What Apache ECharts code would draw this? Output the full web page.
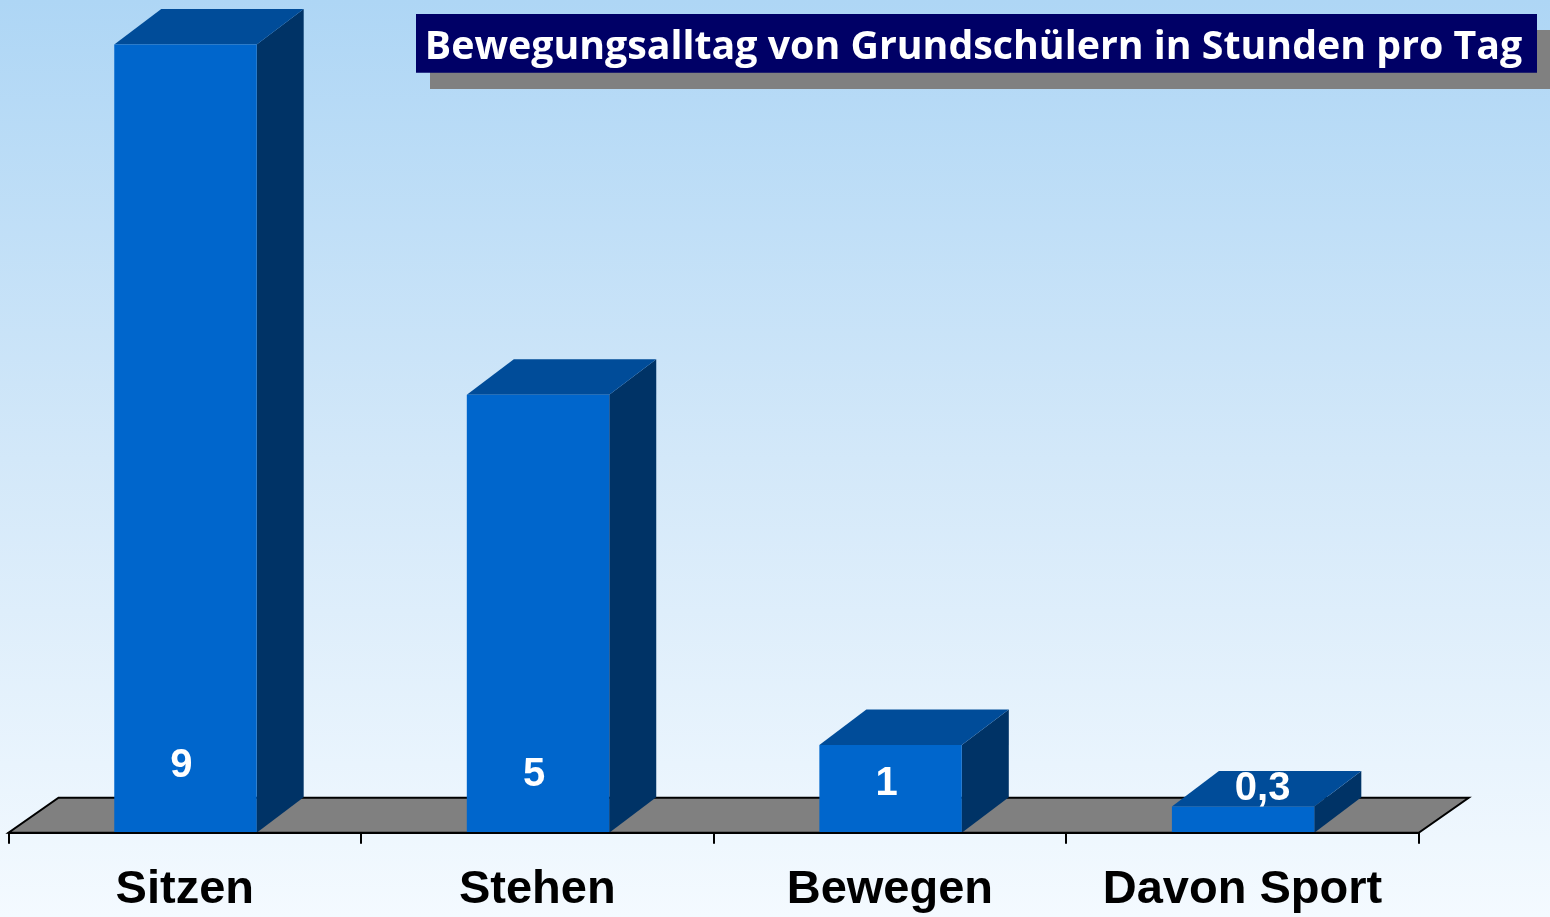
<!DOCTYPE html>
<html>
<head>
<meta charset="utf-8">
<script src="https://cdn.jsdelivr.net/npm/echarts@6/dist/echarts.min.js"></script>
<style>
html,body{margin:0;padding:0;width:1550px;height:917px;overflow:hidden;background:#e6f2fc;}
#chart{width:1550px;height:917px;}
</style>
</head>
<body>
<div id="chart"></div>
<script>
const titleText = 'Bewegungsalltag von Grundschülern in Stunden pro Tag';
const categories = ['Sitzen', 'Stehen', 'Bewegen', 'Davon Sport'];
const hours = [9, 5, 1, 0.3];
const valueLabels = ['9', '5', '1', '0,3'];

const FRONT = '#0066CC', TOP = '#004C99', SIDE = '#003366';
const DX = 47, DY = 35.5;
const LABEL_FONT = '"Liberation Sans", Arial, Helvetica, sans-serif';
const TITLE_FONT_FAMILY = '"Open Sans", "Noto Sans", sans-serif';

// fit title font size to the box width
function fitTitleSize(targetWidth) {
  const c = document.createElement('canvas').getContext('2d');
  c.font = 'bold 100px ' + TITLE_FONT_FAMILY;
  const w = c.measureText(titleText).width;
  return Math.min(42, 100 * targetWidth / w);
}
const titleSize = fitTitleSize(1097);

const chart = echarts.init(document.getElementById('chart'), null, {renderer: 'canvas'});

function renderFloor(params, api) {
  const cs = params.coordSys;
  const xl = cs.x, xr = cs.x + cs.width, yb = cs.y + cs.height;
  const fdx = 50, fdy = 35;
  return {
    type: 'polygon',
    shape: {points: [[xl, yb], [xr, yb], [xr + fdx, yb - fdy], [xl + fdx, yb - fdy]]},
    style: {fill: '#808080', stroke: '#000', lineWidth: 2}
  };
}

function renderBar(params, api) {
  const idx = api.value(0), v = api.value(1);
  const top = api.coord([idx, v]);
  const base = api.coord([idx, 0]);
  const band = api.size([1, 0])[0];
  const w = band * 0.404;
  const x0 = top[0] - w / 2 + 0.7, x1 = x0 + w;
  const yT = top[1], yB = base[1];
  const label = valueLabels[params.dataIndex];
  const fits = (yB - yT) > 50;
  const lx = fits ? (x0 + x1) / 2 - 4 : (x0 + x1) / 2 + DX / 2 - 4;
  const ly = fits ? yB - (47 + 2.2 * v) : yT - DY / 2;
  return {
    type: 'group',
    children: [
      {type: 'polygon', shape: {points: [[x1, yB], [x1 + DX, yB - DY], [x1 + DX, yT - DY], [x1, yT]]}, style: {fill: SIDE}},
      {type: 'polygon', shape: {points: [[x0, yT], [x1, yT], [x1 + DX, yT - DY], [x0 + DX, yT - DY]]}, style: {fill: TOP}},
      {type: 'rect', shape: {x: x0, y: yT, width: w, height: yB - yT}, style: {fill: FRONT}},
      {type: 'text', x: lx, y: ly, style: {text: label, fill: '#fff', font: 'bold 40px ' + LABEL_FONT, align: 'center', verticalAlign: 'middle'}}
    ]
  };
}

const option = {
  animation: false,
  backgroundColor: {
    type: 'linear', x: 0, y: 0, x2: 0, y2: 1,
    colorStops: [
      {offset: 0, color: '#AED6F5'},
      {offset: 0.5, color: '#D3E8F9'},
      {offset: 1, color: '#F4FAFF'}
    ]
  },
  grid: {left: 8.5, right: 131.3, top: 44.5, bottom: 84.3, containLabel: false},
  xAxis: {
    type: 'category',
    data: categories,
    boundaryGap: true,
    axisLine: {show: true, lineStyle: {color: '#000', width: 2}},
    axisTick: {show: true, length: 11, lineStyle: {color: '#000', width: 2}},
    axisLabel: {
      color: '#000', fontSize: 47, fontWeight: 'bold', fontFamily: LABEL_FONT, margin: 34, interval: 0
    },
    splitLine: {show: false},
    z: 5
  },
  yAxis: {
    type: 'value', min: 0, max: 9, show: false,
    splitLine: {show: false}
  },
  graphic: [
    {type: 'rect', shape: {x: 430, y: 30, width: 1130, height: 59}, style: {fill: '#808080'}, z: 1},
    {type: 'rect', shape: {x: 416, y: 14, width: 1121, height: 58.7}, style: {fill: '#000066'}, z: 2},
    {type: 'text', x: 973.5, y: 48, z: 3,
      style: {text: titleText, fill: '#fff', font: 'bold ' + titleSize.toFixed(1) + 'px ' + TITLE_FONT_FAMILY, align: 'center', verticalAlign: 'middle'}}
  ],
  series: [
    {
      type: 'custom', name: 'floor', renderItem: renderFloor, data: [[0, 0]], z: 1, silent: true,
      encode: {x: 0, y: 1}
    },
    {
      type: 'custom', name: 'Stunden', renderItem: renderBar,
      data: hours.map((v, i) => [i, v]),
      encode: {x: 0, y: 1}, z: 2, clip: false
    }
  ]
};
chart.setOption(option);
</script>
</body>
</html>
